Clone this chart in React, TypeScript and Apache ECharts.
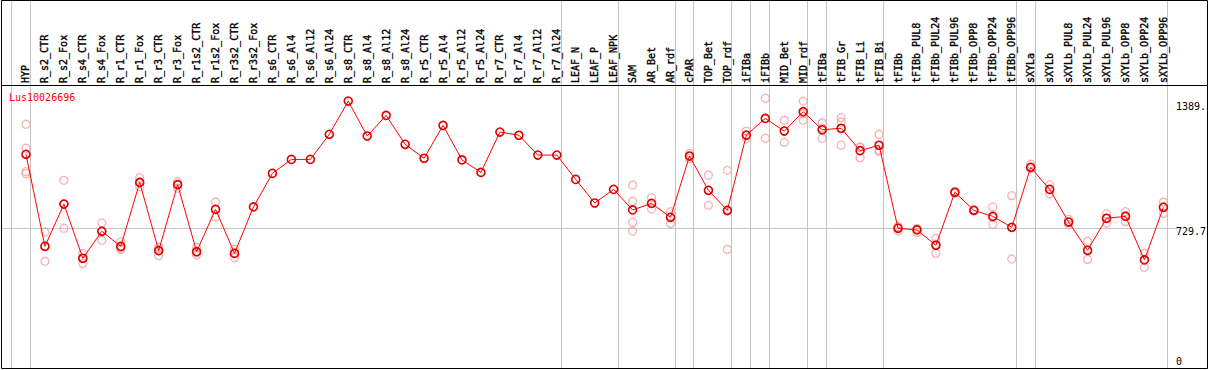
import React, { useEffect, useRef } from "react";
import * as echarts from "echarts";

const chartTitle = "Lus10026696";

const categories = [
  "HYP", "R_s2_CTR", "R_s2_Fox", "R_s4_CTR", "R_s4_Fox", "R_r1_CTR", "R_r1_Fox", "R_r3_CTR", "R_r3_Fox",
  "R_r1s2_CTR", "R_r1s2_Fox", "R_r3s2_CTR", "R_r3s2_Fox", "R_s6_CTR", "R_s6_Al4", "R_s6_Al12", "R_s6_Al24",
  "R_s8_CTR", "R_s8_Al4", "R_s8_Al12", "R_s8_Al24", "R_r5_CTR", "R_r5_Al4", "R_r5_Al12", "R_r5_Al24",
  "R_r7_CTR", "R_r7_Al4", "R_r7_Al12", "R_r7_Al24", "LEAF_N", "LEAF_P", "LEAF_NPK", "SAM", "AR_Bet", "AR_rdf",
  "cPAR", "TOP_Bet", "TOP_rdf", "iFIBa", "iFIBb", "MID_Bet", "MID_rdf", "tFIBa", "tFIB_Gr", "tFIB_Li", "tFIB_Bi",
  "tFIBb", "tFIBb_PUL8", "tFIBb_PUL24", "tFIBb_PUL96", "tFIBb_OPP8", "tFIBb_OPP24", "tFIBb_OPP96",
  "sXYLa", "sXYLb", "sXYLb_PUL8", "sXYLb_PUL24", "sXYLb_PUL96", "sXYLb_OPP8", "sXYLb_OPP24", "sXYLb_OPP96",
];

const means = [
  1122, 634, 858, 571, 714, 634, 973, 611, 961, 606, 830, 597, 843, 1021, 1095, 1095, 1228, 1404, 1219, 1328,
  1175, 1101, 1275, 1092, 1026, 1240, 1223, 1118, 1118, 989, 864, 936, 827, 862, 788, 1113, 931, 825, 1224,
  1312, 1245, 1348, 1252, 1260, 1141, 1170, 729.7, 721, 640, 921, 825, 793, 735, 1053, 936, 763, 613, 783, 793,
  562, 841,
];

const replicates: number[][] = [
  [1281, 1154, 1030, 1019],
  [710, 637, 555],
  [984, 860, 730],
  [597, 570, 544],
  [758, 717, 666],
  [659, 625, 618],
  [998, 971, 950],
  [629, 619, 585],
  [977, 964, 942],
  [629, 600, 588],
  [869, 831, 790],
  [618, 599, 574],
  [], [], [], [], [], [], [], [], [], [], [], [], [], [], [], [], [], [], [], [],
  [959, 873, 762, 715],
  [892, 862, 832],
  [818, 790, 756],
  [1127, 1112, 1100],
  [1012, 930, 852],
  [1037, 820, 618],
  [1245, 1220, 1207],
  [1419, 1312, 1207],
  [1302, 1248, 1185],
  [1404, 1337, 1302],
  [1289, 1261, 1207],
  [1316, 1293, 1170],
  [1161, 1158, 1104],
  [1228, 1138, 1143],
  [740, 734, 715],
  [728, 728, 707],
  [677, 645, 597],
  [925, 921, 916],
  [828, 825, 822],
  [843, 787, 751],
  [903, 735, 567],
  [1069, 1053, 1045],
  [961, 936, 912],
  [777, 763, 749],
  [661, 613, 565],
  [807, 783, 758],
  [818, 797, 765],
  [597, 565, 523],
  [869, 845, 809],
];

const groupStarts = [
  "HYP", "R_s2_CTR", "LEAF_N", "SAM", "cPAR", "TOP_Bet", "iFIBa", "iFIBb", "MID_Bet", "tFIBa", "tFIB_Gr",
  "tFIBb", "sXYLa", "sXYLb",
];

const yTopLabels = [729.7, 1389];
const yBottomLabels = [0];
const referenceValue = 729.7;
const yMax = 1484;

export default function App() {
  const ref = useRef<HTMLDivElement>(null);

  useEffect(() => {
    const el = ref.current;
    if (!el) return;
    const chart = echarts.init(el, null, { renderer: "svg" });
    const font = "'DejaVu Sans Mono', monospace";

    const repData: number[][] = [];
    replicates.forEach((arr, i) => arr.forEach((v) => repData.push([i, v])));

    const yLabelBase = {
      fontFamily: font,
      fontSize: 10,
      color: "#000",
      margin: 3,
      showMinLabel: true,
      showMaxLabel: true,
    };

    chart.setOption({
      animation: false,
      backgroundColor: "#fff",
      title: {
        text: chartTitle,
        left: 9,
        top: 92,
        padding: 0,
        textStyle: { color: "#ff0000", fontFamily: font, fontSize: 10, fontWeight: "normal" },
      },
      grid: { left: 16.5, right: 33.5, top: 86, bottom: 4, containLabel: false },
      xAxis: {
        type: "category",
        data: categories,
        position: "top",
        boundaryGap: true,
        axisLine: { show: false },
        axisTick: { show: false },
        splitLine: { show: false },
        axisLabel: {
          rotate: 90,
          interval: 0,
          margin: 3,
          fontFamily: font,
          fontSize: 10,
          color: "#000",
          textBorderColor: "#000",
          textBorderWidth: 0.35,
        },
      },
      yAxis: [
        {
          type: "value",
          min: 0,
          max: yMax,
          position: "right",
          axisLine: { show: false },
          axisTick: { show: false },
          splitLine: { show: false },
          axisLabel: {
            ...yLabelBase,
            customValues: yTopLabels,
            verticalAlign: "top",
            padding: [-2, 0, 0, 0],
            formatter: (v: number) => (v === 1389 ? "1389." : String(v)),
          },
        },
        {
          type: "value",
          min: 0,
          max: yMax,
          position: "right",
          axisLine: { show: false },
          axisTick: { show: false },
          splitLine: { show: false },
          axisLabel: {
            ...yLabelBase,
            customValues: yBottomLabels,
            verticalAlign: "bottom",
            formatter: (v: number) => String(v),
          },
        },
      ],
      series: [
        {
          name: "replicates",
          type: "scatter",
          data: repData,
          symbol: "circle",
          symbolSize: 8,
          z: 3,
          itemStyle: { color: "rgba(255,255,255,0)", borderColor: "#f2a0a0", borderWidth: 1.3 },
          emphasis: { disabled: true },
        },
        {
          name: "mean",
          type: "line",
          data: means,
          symbol: "circle",
          symbolSize: 8,
          showAllSymbol: true,
          z: 4,
          lineStyle: { color: "#ff0000", width: 1 },
          itemStyle: { color: "rgba(255,255,255,0)", borderColor: "#e00000", borderWidth: 1.6 },
          emphasis: { disabled: true },
        },
      ],
    });

    const c0 = chart.convertToPixel({ xAxisIndex: 0 }, 0) as number;
    const c1 = chart.convertToPixel({ xAxisIndex: 0 }, 1) as number;
    const step = c1 - c0;
    const yRef = chart.convertToPixel({ yAxisIndex: 0 }, referenceValue) as number;
    const crisp = (v: number) => Math.round(v - 0.5) + 0.5;

    const boundaryIdx = [...groupStarts.map((n) => categories.indexOf(n)), categories.length];
    const vLines = boundaryIdx.map((idx) => {
      const x = crisp(c0 + step * idx - step * 0.763);
      return {
        type: "line",
        z: 0,
        shape: { x1: x, y1: 0, x2: x, y2: 369 },
        style: { stroke: "#c4c4c4", lineWidth: 1 },
        silent: true,
      };
    });

    chart.setOption({
      graphic: [
        ...vLines,
        {
          type: "line",
          z: 0,
          shape: { x1: 1, y1: crisp(yRef), x2: 1178, y2: crisp(yRef) },
          style: { stroke: "#c4c4c4", lineWidth: 1 },
          silent: true,
        },
        {
          type: "line",
          z: 10,
          shape: { x1: 1, y1: 85.5, x2: 1208, y2: 85.5 },
          style: { stroke: "#000", lineWidth: 1 },
          silent: true,
        },
        {
          type: "rect",
          z: 10,
          shape: { x: 1.5, y: 0.5, width: 1206, height: 368 },
          style: { fill: "none", stroke: "#000", lineWidth: 1 },
          silent: true,
        },
      ],
    });

    return () => chart.dispose();
  }, []);

  return (
    <div
      ref={ref}
      style={{ position: "fixed", left: 0, top: 0, width: 1209, height: 370, background: "#fff" }}
    />
  );
}
